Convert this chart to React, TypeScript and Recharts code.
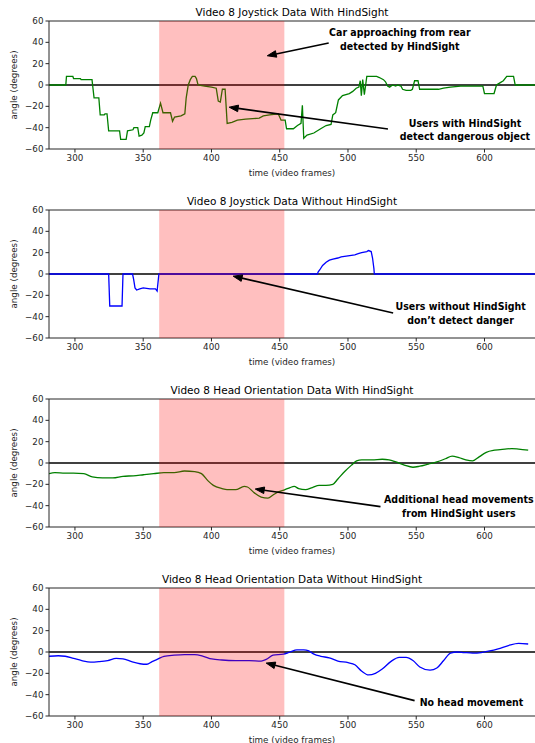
import React from "react";
import { LineChart, Line, XAxis, YAxis, ReferenceLine, ReferenceArea, ReferenceDot } from "recharts";

// axis ranges and ticks
const frameRange: [number, number] = [281, 637];
const angleRange: [number, number] = [-60, 60];
const frameTicks = [300, 350, 400, 450, 500, 550, 600];
const angleTicks = [-60, -40, -20, 0, 20, 40, 60];

// window where the car approaches (video frames)
const hazardStart = 361.7;
const hazardEnd = 453.4;

// Video 8 joystick, with HindSight
const joyWithFrames = [
  281, 293.3, 293.8, 298.5, 299, 304, 304.5, 312.5, 314, 317.5, 318.5, 321.5, 322, 323.5, 324.7, 332.7,
  333.5, 337.5, 338.5, 342.5, 343.2, 346, 347, 349, 350.5, 351.5, 354.5, 355.5, 357, 360.7, 362.7, 364.5,
  370, 371.5, 373, 377.7, 380.5, 381.5, 383, 384.5, 386, 388, 389, 390.2, 395, 400, 403.5, 405, 406.5,
  408, 410, 411.5, 415, 419, 425, 435, 438, 442.6, 448.9, 451, 454, 455, 460, 463, 465.6, 466.6, 467.6,
  470, 475, 480, 484, 487.6, 488.9, 491, 493, 496, 501, 503.5, 506, 508, 509, 509.8, 510.8, 512, 513.8,
  521, 523, 526, 527.5, 529, 530.5, 532.6, 535, 536.2, 538.8, 540, 542.6, 546, 547.2, 548.8, 551.3, 552.5,
  566.3, 570, 575, 582.5, 598.8, 600, 607, 608.8, 611.3, 613.8, 616.3, 621.3, 622.5, 637,
];
const joyWithAngles = [
  0, 0, 8, 8, 6, 6, 5, 5, -12, -12, -28, -28, -27, -27, -43, -43,
  -51, -51, -43, -42, -40, -40, -48, -47, -45, -39, -39, -33, -26, -26, -17, -26,
  -26, -34, -30, -29, -27, -12, 0, 5, 8, 8, 6, 0, -1, -2, -3, -15, -16,
  -4, -4, -36, -35, -33, -32, -31, -29, -28, -27, -33, -33, -41, -41, -38, -36, -19, -50,
  -47, -45, -41, -38, -37, -28, -26, -14, -10, -8, -6, -3, -2, 4, -10, 5, -9, 8,
  8, 7, 5, 3, -1, -2, 0, -1, 0, -1, -4, -5, -5, -4, 4, 4, -4,
  -4, -3, -2, -1, -1, -8, -8, 0, 2, 4, 8, 8, 0, 0,
];

// Video 8 joystick, without HindSight
const joyWithoutFrames = [
  281, 324.7, 325.5, 334.5, 335.2, 342.2, 343, 344, 345.2, 347.5, 350, 355, 359, 360.2, 361.5, 477.6,
  478.2, 479.4, 481.4, 484, 486.4, 489, 492.6, 495, 500, 505, 507.5, 510, 513.8, 515, 517, 518, 519, 519.3, 637,
];
const joyWithoutAngles = [
  0, 0, -30, -30, 0, 0, -5, -13, -15, -14, -13, -14, -14, -16, 0, 0,
  2, 4, 8, 11, 13, 14, 15, 16, 17, 18, 19, 20, 21, 22, 21, 15, 5, 0, 0,
];

// Video 8 head orientation, with HindSight
const headWithFrames = [
  281, 285.3, 292.8, 298.9, 306.5, 312.7, 320.2, 327.7, 335.2, 342.7, 350.2, 357.7, 365.2, 372.7, 380.2,
  387.7, 392.7, 397.7, 401.4, 407.7, 411.4, 417.7, 424, 426.4, 431.4, 436.4, 441.4, 445.1, 448.9, 453.9,
  457.6, 460.6, 463.9, 468.9, 473.9, 478.9, 483.9, 488.9, 492.6, 497.6, 502.6, 506.3, 510.1, 517.6, 525.1,
  530.1, 535.1, 541.3, 547.6, 552.6, 558.9, 565.1, 571.4, 576.3, 581.3, 586.3, 591.3, 596.3, 601.3, 607.5,
  615, 620, 625, 632,
];
const headWithAngles = [
  -10, -9, -9.5, -9.5, -10, -13, -14, -14, -12.5, -12, -11, -10, -9, -9, -7.5,
  -8, -10, -17, -21, -24, -25, -25, -22, -22.5, -28, -32, -33, -30, -27, -25,
  -23, -22, -24, -25, -23, -21, -21, -20, -15, -8, -2, 2, 3, 3, 3.5,
  3, 1, -2, -4, -3, -1, 1, 4, 6.5, 5, 3, 2, 6, 10, 12,
  13, 13.5, 13, 12,
];

// Video 8 head orientation, without HindSight
const headWithoutFrames = [
  281, 287.8, 292.8, 299, 305, 311.5, 317.7, 324, 330.2, 335.2, 341.5, 347.7, 352.7, 356.5, 360.2, 365.2,
  372.7, 380.2, 387.7, 394, 400.2, 407.7, 417.7, 427.7, 436.4, 440.1, 445.1, 452.6, 457.6, 462.6, 467.6,
  471.3, 475.1, 480.1, 486.3, 492.6, 500.1, 505.1, 510.1, 515.1, 520.1, 525.1, 531.3, 537.6, 542.6, 547.6,
  552.6, 560.1, 565.1, 570.1, 575.1, 580.1, 585.1, 591.3, 597.6, 603.8, 610, 617.5, 625, 632,
];
const headWithoutAngles = [
  -4, -3.5, -4, -6, -8, -9.5, -9, -8, -6, -6.5, -9, -11, -11.5, -9, -7, -4,
  -3, -2.5, -2.5, -4, -6.5, -7.5, -8, -8, -8.5, -7, -3, -2, 0, 2, 2,
  1, -2, -4, -5.5, -8.5, -10, -12, -18, -21.5, -20, -16, -9, -5, -5, -8,
  -14, -17, -15, -8, -1, 0, -0.5, -1, -0.5, 1, 3, 6, 8, 7.5,
];

const GREEN = "#008000";
const BLUE = "#0000ff";
const AXIS = "#262626";
const TICK_FONT = "DejaVu Sans, sans-serif";
const NOTE_FONT = "'DejaVu Sans Condensed', 'DejaVu Sans', sans-serif";

type Note = {
  lines: string[];
  at: [number, number];
  from: [number, number];
  to: [number, number];
};

const Arrow = (p: any) => {
  const { x1, y1, x2, y2 } = p;
  if (x1 == null || x2 == null) return null;
  const dx = x2 - x1;
  const dy = y2 - y1;
  const len = Math.sqrt(dx * dx + dy * dy) || 1;
  const ux = dx / len;
  const uy = dy / len;
  const headLen = 9;
  const headHalf = 3.3;
  const bx = x2 - ux * headLen;
  const by = y2 - uy * headLen;
  const pts = [
    `${x2},${y2}`,
    `${bx - uy * headHalf},${by + ux * headHalf}`,
    `${bx + uy * headHalf},${by - ux * headHalf}`,
  ].join(" ");
  return (
    <g>
      <line x1={x1} y1={y1} x2={bx} y2={by} stroke="#000" strokeWidth={1.6} />
      <polygon points={pts} fill="#000" stroke="#000" strokeWidth={1} />
    </g>
  );
};

const noteText = (lines: string[]) => (p: any) => {
  const { cx, cy } = p;
  if (cx == null) return null;
  const gap = 13.8;
  const top = cy - ((lines.length - 1) * gap) / 2;
  return (
    <text
      fontFamily={NOTE_FONT}
      fontWeight="bold"
      fontSize={10.5}
      style={{ fontStretch: "condensed" }}
      fill="#000"
      textAnchor="middle"
    >
      {lines.map((l, i) => (
        <tspan key={i} x={cx} y={top + i * gap} dominantBaseline="central">
          {l}
        </tspan>
      ))}
    </text>
  );
};

const fmtAngle = (v: number) => String(v).replace("-", "\u2212");

type PanelProps = {
  title: string;
  frames: number[];
  angles: number[];
  color: string;
  smooth?: boolean;
  notes: Note[];
};

function Panel({ title, frames, angles, color, smooth, notes }: PanelProps) {
  const data = frames.map((f, i) => ({ f, a: angles[i] }));
  const W = 535;
  const H = 189;
  const top = 21;
  const plotH = 128;
  return (
    <div style={{ position: "relative", width: W, height: H }}>
      <LineChart width={W} height={H} data={data} margin={{ top, right: 0, bottom: 0, left: 0 }}>
        <XAxis
          dataKey="f"
          type="number"
          domain={frameRange}
          ticks={frameTicks}
          allowDataOverflow
          height={H - top - plotH}
          tick={{ fontSize: 8.75, fill: AXIS, fontFamily: TICK_FONT }}
          tickSize={3.5}
          tickMargin={2.5}
          axisLine={{ stroke: AXIS, strokeWidth: 1 }}
          tickLine={{ stroke: AXIS, strokeWidth: 1 }}
        />
        <YAxis
          type="number"
          domain={angleRange}
          ticks={angleTicks}
          allowDataOverflow
          width={49}
          tickFormatter={fmtAngle}
          tick={{ fontSize: 8.75, fill: AXIS, fontFamily: TICK_FONT }}
          tickSize={3.5}
          tickMargin={2}
          axisLine={{ stroke: AXIS, strokeWidth: 1 }}
          tickLine={{ stroke: AXIS, strokeWidth: 1 }}
        />
        <ReferenceLine y={0} stroke="#000" strokeWidth={1.3} zIndex={100} />
        <ReferenceLine y={60} stroke={AXIS} strokeWidth={1} zIndex={100} />
        <Line
          dataKey="a"
          type={smooth ? "monotone" : "linear"}
          stroke={color}
          strokeWidth={1.3}
          dot={false}
          activeDot={false}
          isAnimationActive={false}
        />
        <ReferenceArea
          x1={hazardStart}
          x2={hazardEnd}
          y1={-60}
          y2={60}
          fill="#ff0000"
          fillOpacity={0.25}
          stroke="none"
          zIndex={2000}
        />
        {notes.map((n, i) => (
          <ReferenceLine
            key={`arrow-${i}`}
            segment={[
              { x: n.from[0], y: n.from[1] },
              { x: n.to[0], y: n.to[1] },
            ]}
            ifOverflow="visible"
            shape={Arrow}
            zIndex={3000}
          />
        ))}
        {notes.map((n, i) => (
          <ReferenceDot
            key={`text-${i}`}
            x={n.at[0]}
            y={n.at[1]}
            r={0}
            ifOverflow="visible"
            shape={noteText(n.lines)}
            zIndex={3000}
          />
        ))}
      </LineChart>
      <svg width={W} height={H} style={{ position: "absolute", left: 0, top: 0, pointerEvents: "none" }}>
        <text x={292} y={12} textAnchor="middle" dominantBaseline="central" fontFamily={TICK_FONT} fontSize={10.5} fill="#000">
          {title}
        </text>
        <text x={292} y={172.5} textAnchor="middle" dominantBaseline="central" fontFamily={TICK_FONT} fontSize={8.75} fill={AXIS}>
          time (video frames)
        </text>
        <text
          x={14.3}
          y={top + plotH / 2}
          textAnchor="middle"
          dominantBaseline="central"
          fontFamily={TICK_FONT}
          fontSize={8.75}
          fill={AXIS}
          transform={`rotate(-90 14.3 ${top + plotH / 2})`}
        >
          angle (degrees)
        </text>
      </svg>
    </div>
  );
}

export default function App() {
  return (
    <div style={{ position: "absolute", left: 0, top: 0, width: 535, height: 743, overflow: "hidden", background: "#fff" }}>
      <Panel
        title="Video 8 Joystick Data With HindSight"
        frames={joyWithFrames}
        angles={joyWithAngles}
        color={GREEN}
        notes={[
          { lines: ["Car approaching from rear", "detected by HindSight"], at: [538, 43.3], from: [485.9, 39.3], to: [440.9, 27.4] },
          { lines: ["Users with HindSight", "detect dangerous object"], at: [585.7, -41.7], from: [529.3, -41.2], to: [413, -20.8] },
        ]}
      />
      <Panel
        title="Video 8 Joystick Data Without HindSight"
        frames={joyWithoutFrames}
        angles={joyWithoutAngles}
        color={BLUE}
        notes={[
          { lines: ["Users without HindSight", "don\u2019t detect danger"], at: [582.5, -36.5], from: [533.1, -36.5], to: [415.9, -2.0] },
        ]}
      />
      <Panel
        title="Video 8 Head Orientation Data With HindSight"
        frames={headWithFrames}
        angles={headWithAngles}
        color={GREEN}
        smooth
        notes={[
          { lines: ["Additional head movements", "from HindSight users"], at: [581.2, -40], from: [523.8, -40.9], to: [432.1, -24.4] },
        ]}
      />
      <Panel
        title="Video 8 Head Orientation Data Without HindSight"
        frames={headWithoutFrames}
        angles={headWithoutAngles}
        color={BLUE}
        smooth
        notes={[
          { lines: ["No head movement"], at: [590.5, -46.5], from: [548.8, -45.6], to: [440.1, -10.4] },
        ]}
      />
    </div>
  );
}
